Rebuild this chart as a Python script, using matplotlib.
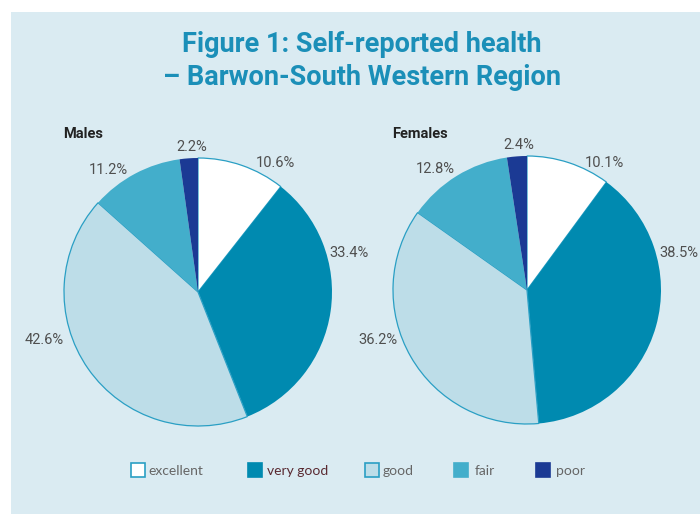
import matplotlib
matplotlib.use("Agg")
import matplotlib.pyplot as plt
from matplotlib.patches import Rectangle

categories = ["excellent", "very good", "good", "fair", "poor"]
males = [10.6, 33.4, 42.6, 11.2, 2.2]
females = [10.1, 38.5, 36.2, 12.8, 2.4]
males_labels = ["10.6%", "33.4%", "42.6%", "11.2%", "2.2%"]
females_labels = ["10.1%", "38.5%", "36.2%", "12.8%", "2.4%"]
title = "Figure 1: Self-reported health\n– Barwon-South Western Region"

colors = ["#FFFFFF", "#008AB0", "#BDDDE8", "#43AECB", "#1B3A94"]
edge_col = ["#2A9FC4", None, "#2A9FC4", None, None]
legend_text_col = ["#666666", "#5A2A32", "#666666", "#666666", "#666666"]
BG = "#DAEBF2"
TFONT = ["Roboto", "DejaVu Sans"]
LFONT = ["Roboto", "DejaVu Sans"]
GFONT = ["Lato", "DejaVu Sans"]

W, H = 700, 514
fig = plt.figure(figsize=(7, 5.14), dpi=100)
fig.patch.set_facecolor("white")
fig.patches.append(Rectangle((11 / W, 0), 1 - 11 / W, 1 - 12 / H,
                             transform=fig.transFigure, facecolor=BG,
                             edgecolor="none", zorder=-10))

fig.text(362 / W, 1 - 61 / H, title, ha="center", va="center",
         fontsize=19.5, fontweight="bold", color="#1B8FB8", family=TFONT,
         linespacing=1.25)

# label offsets (layout) in pie-radius units relative to centre
male_label_pos = [(0.575, 0.96), (1.127, 0.29), (-1.15, -0.36), (-0.67, 0.91), (-0.045, 1.082)]
female_label_pos = [(0.575, 0.95), (1.131, 0.276), (-1.11, -0.373), (-0.686, 0.90), (-0.063, 1.082)]

def draw_pie(cx, cy, r, values, labels, lpos, name, name_x):
    ax = fig.add_axes([(cx - r) / W, (H - cy - r) / H, 2 * r / W, 2 * r / H])
    wedges, _ = ax.pie(values, colors=colors, startangle=90, counterclock=False,
                       radius=1, wedgeprops=dict(linewidth=0))
    ax.set_xlim(-1, 1)
    ax.set_ylim(-1, 1)
    ax.set_aspect("equal")
    ax.axis("off")
    for w, ec in zip(wedges, edge_col):
        w.set_clip_on(False)
        if ec:
            w.set_edgecolor(ec)
            w.set_linewidth(0.9)
    for lab, (x, y) in zip(labels, lpos):
        ax.text(x, y, lab, ha="center", va="center", fontsize=10.5,
                color="#4F4F4F", family=LFONT, clip_on=False)
    fig.text(name_x / W, 1 - 134 / H, name, ha="left", va="center",
             fontsize=10.5, fontweight="bold", color="#222222", family=TFONT)

draw_pie(198, 292, 134, males, males_labels, male_label_pos, "Males", 63)
draw_pie(527, 290, 134, females, females_labels, female_label_pos, "Females", 392)

# legend (manual layout)
sq_x = [131, 248, 365, 454, 536]
tx_x = [148, 267, 383, 475, 556]
sq = 14
for c, ec, cat, sx, tx, tc in zip(colors, edge_col, categories, sq_x, tx_x, legend_text_col):
    fig.patches.append(Rectangle((sx / W, 1 - (463 + sq) / H), sq / W, sq / H,
                                 transform=fig.transFigure, facecolor=c,
                                 edgecolor=ec if ec else c, linewidth=1.2))
    fig.text(tx / W, 1 - 471 / H, cat, ha="left", va="center", fontsize=10,
             color=tc, family=GFONT)

fig.savefig("out.png", dpi=100, facecolor=fig.get_facecolor())
